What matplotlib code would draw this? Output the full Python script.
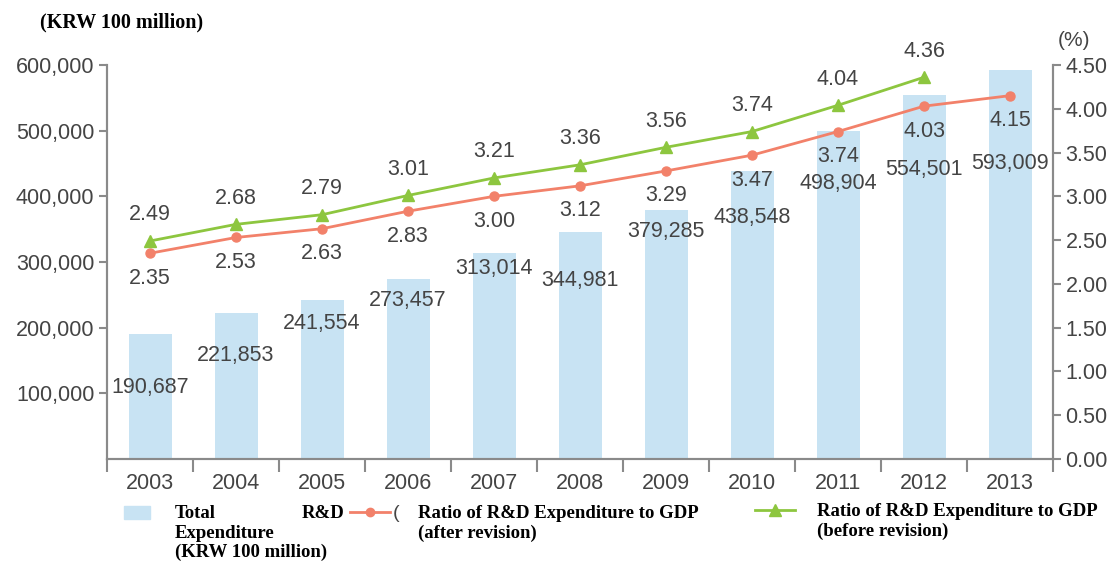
import matplotlib
matplotlib.use("Agg")
from matplotlib import pyplot as plt
from matplotlib.lines import Line2D
from matplotlib.patches import Rectangle
import numpy as np

years = ["2003", "2004", "2005", "2006", "2007", "2008", "2009", "2010", "2011", "2012", "2013"]
total_rd = [190687, 221853, 241554, 273457, 313014, 344981, 379285, 438548, 498904, 554501, 593009]
ratio_after = [2.35, 2.53, 2.63, 2.83, 3.00, 3.12, 3.29, 3.47, 3.74, 4.03, 4.15]
ratio_before = [2.49, 2.68, 2.79, 3.01, 3.21, 3.36, 3.56, 3.74, 4.04, 4.36]

# how far (px) each bar value label sits below the bar top
bar_label_drop = [54, 42, 23, 21, 15, 48, 22, 46, 52, 75, 94]

BAR = "#c8e3f3"
RED = "#f2816a"
GREEN = "#8dc63f"
TXT = "#444444"
SPINE = "#8a8a8a"
SANS = "Liberation Sans"
SERIF = "Liberation Serif"

W, H = 1114, 561
fig = plt.figure(figsize=(W / 100, H / 100), dpi=100)
ax = fig.add_axes([107 / W, 1 - 459 / H, 946 / W, (459 - 65) / H])
ax2 = ax.twinx()

x = np.arange(len(years))
ax.bar(x, total_rd, width=0.5, color=BAR, zorder=1)
for i, v in enumerate(total_rd):
    ax.annotate(f"{v:,}", (x[i], v), xytext=(0, -bar_label_drop[i]), textcoords="offset pixels",
                ha="center", va="center", fontsize=15.5, family=SANS, color=TXT)

ax.set_xlim(-0.5, len(years) - 0.5)
ax.set_ylim(0, 600000)
ax.set_yticks(np.arange(100000, 600001, 100000))
ax.set_yticklabels([f"{int(t):,}" for t in ax.get_yticks()])
ax.set_xticks(np.arange(-0.5, len(years), 1.0))
ax.set_xticklabels([])
ax.set_xticks(x, minor=True)
ax.set_xticklabels(years, minor=True)
ax.tick_params(axis="x", which="major", length=9, width=1.5, color=SPINE, direction="out")
ax.tick_params(axis="x", which="minor", length=0, pad=10, labelsize=15.5, labelcolor=TXT)
ax.tick_params(axis="y", length=6, width=1.5, color=SPINE, labelsize=15.5, labelcolor=TXT, pad=3)

ax2.plot(x, ratio_after, color=RED, lw=2, marker="o", ms=6.5, zorder=3)
ax2.plot(x[:len(ratio_before)], ratio_before, color=GREEN, lw=2, marker="^", ms=9, zorder=4)
for i, v in enumerate(ratio_after):
    ax2.annotate(f"{v:.2f}", (x[i], v), xytext=(0, -25), textcoords="offset pixels",
                 ha="center", va="center", fontsize=15.5, family=SANS, color=TXT)
for i, v in enumerate(ratio_before):
    ax2.annotate(f"{v:.2f}", (x[i], v), xytext=(0, 26), textcoords="offset pixels",
                 ha="center", va="center", fontsize=15.5, family=SANS, color=TXT)
ax2.set_ylim(0, 4.5)
ax2.set_yticks(np.arange(0, 4.51, 0.5))
ax2.set_yticklabels([f"{t:.2f}" for t in ax2.get_yticks()])
ax2.tick_params(axis="y", length=6, width=1.5, color=SPINE, labelsize=15.5, labelcolor=TXT, pad=3)

for a in (ax, ax2):
    a.spines["top"].set_visible(False)
    for s in ("left", "right", "bottom"):
        a.spines[s].set_color(SPINE)
        a.spines[s].set_linewidth(1.5)
    for lab in a.get_xticklabels(which="both") + a.get_yticklabels():
        lab.set_family(SANS)

def px(px_x, px_y):
    return px_x / W, 1 - px_y / H

fig.text(*px(40, 22), "(KRW 100 million)", family=SERIF, weight="bold", fontsize=14.5,
         color="black", ha="left", va="center")
fig.text(*px(1058, 40), "(%)", family=SANS, fontsize=15, color=TXT, ha="left", va="center")

# legend drawn by hand to keep the original's odd layout
fig.patches.append(Rectangle(px(124, 519), 26 / W, 13 / H, transform=fig.transFigure,
                             color=BAR, figure=fig))
lx0, ly = px(350, 512)
lx1, _ = px(390, 512)
fig.lines.append(Line2D([lx0, lx1], [ly, ly], transform=fig.transFigure, color=RED, lw=2))
fig.lines.append(Line2D([(lx0 + lx1) / 2], [ly], transform=fig.transFigure, color=RED,
                        marker="o", ms=6))
gx0, gy = px(755, 510)
gx1, _ = px(795, 510)
fig.lines.append(Line2D([gx0, gx1], [gy, gy], transform=fig.transFigure, color=GREEN, lw=2))
fig.lines.append(Line2D([(gx0 + gx1) / 2], [gy], transform=fig.transFigure, color=GREEN,
                        marker="^", ms=8))

leg = dict(family=SERIF, weight="bold", fontsize=13.5, color="black", ha="left", va="center")
fig.text(*px(175, 513), "Total", **leg)
fig.text(*px(302, 513), "R&D", **leg)
fig.text(*px(175, 533), "Expenditure", **leg)
fig.text(*px(175, 552), "(KRW 100 million)", **leg)
fig.text(*px(393, 513), "(", family=SANS, fontsize=14, color=TXT, ha="left", va="center")
fig.text(*px(418, 513), "Ratio of R&D Expenditure to GDP", **leg)
fig.text(*px(418, 533), "(after revision)", **leg)
fig.text(*px(817, 511), "Ratio of R&D Expenditure to GDP", **leg)
fig.text(*px(817, 531), "(before revision)", **leg)

fig.savefig("out.png", dpi=100)
